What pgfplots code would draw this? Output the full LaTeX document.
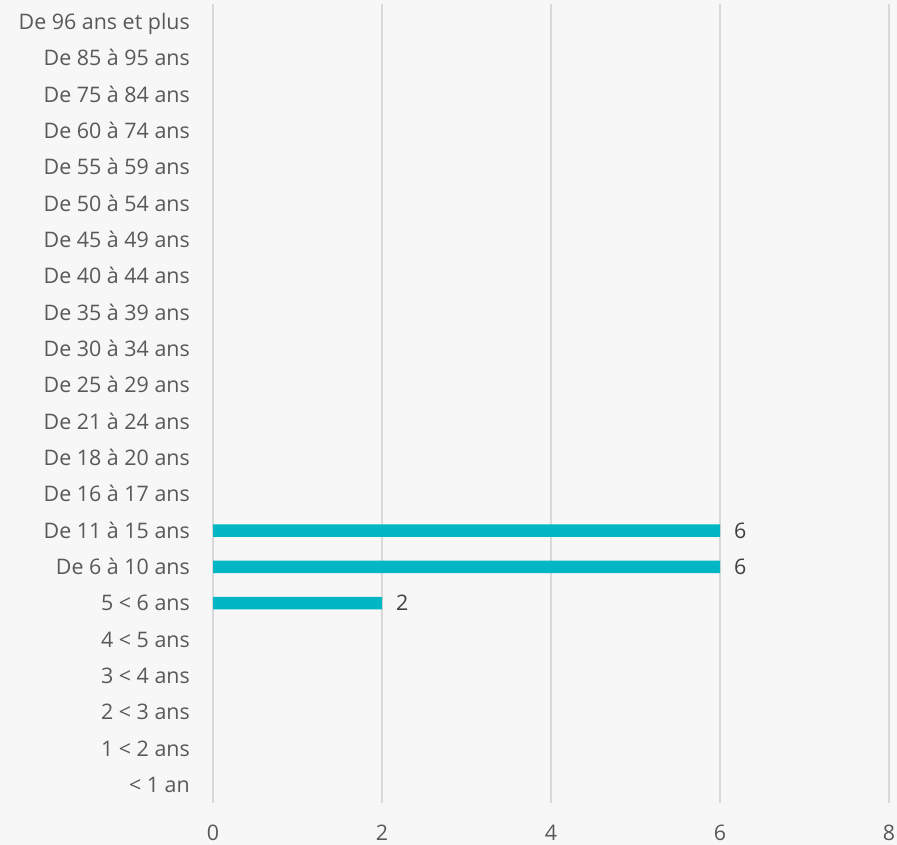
\documentclass[border=0pt]{standalone}
\usepackage{fontspec}
\setmainfont{Open Sans}
\usepackage{pgfplots}
\pgfplotsset{compat=1.18}

\definecolor{bgc}{HTML}{F7F7F7}
\definecolor{gridc}{HTML}{D9D9D9}
\definecolor{labc}{HTML}{595959}
\definecolor{valc}{HTML}{404040}
\definecolor{barc}{HTML}{00B7C3}

\begin{document}
\begin{tikzpicture}
\fill[bgc] (0,0) rectangle (897bp,845bp);
\begin{axis}[
  at={(213bp,42bp)}, anchor=south west,
  scale only axis, width=676bp, height=799bp,
  xmin=0, xmax=8, ymin=-0.5, ymax=21.5,
  xtick={0,2,4,6,8},
  ytick={0,...,21},
  yticklabels={{< 1 an},{1 < 2 ans},{2 < 3 ans},{3 < 4 ans},{4 < 5 ans},{5 < 6 ans},
    {De 6 à 10 ans},{De 11 à 15 ans},{De 16 à 17 ans},{De 18 à 20 ans},{De 21 à 24 ans},
    {De 25 à 29 ans},{De 30 à 34 ans},{De 35 à 39 ans},{De 40 à 44 ans},{De 45 à 49 ans},
    {De 50 à 54 ans},{De 55 à 59 ans},{De 60 à 74 ans},{De 75 à 84 ans},{De 85 à 95 ans},
    {De 96 ans et plus}},
  axis line style={draw=none},
  major tick length=0pt,
  xmajorgrids,
  grid style={draw=gridc, line width=1.3bp},
  /pgf/number format/assume math mode=true,
  tick label style={font=\fontsize{21.5}{24}\selectfont, text=labc, inner sep=0pt},
  xticklabel style={anchor=center, yshift=-30bp},
  yticklabel style={anchor=base east, xshift=-23bp, yshift=-7.5bp},
  xbar, bar width=12.5bp,
  nodes near coords,
  nodes near coords style={font=\fontsize{21.5}{24}\selectfont, text=valc,
    anchor=base west, inner sep=0pt, xshift=14bp, yshift=-7.5bp},
]
\addplot[fill=barc, draw=none] coordinates {(2,5) (6,6) (6,7)};
\end{axis}
\pgfresetboundingbox
\path[use as bounding box] (0,0) rectangle (897bp,845bp);
\end{tikzpicture}
\end{document}
